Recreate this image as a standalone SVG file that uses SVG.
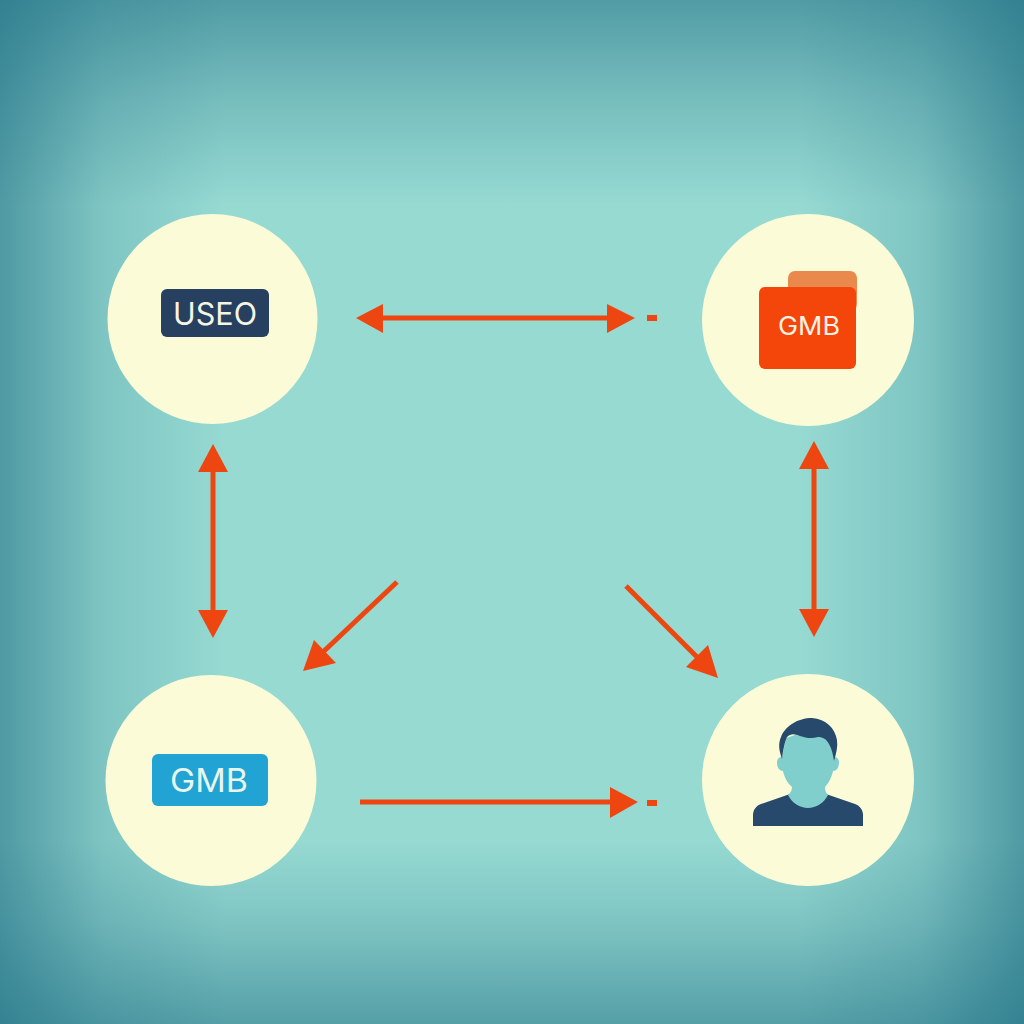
<svg xmlns="http://www.w3.org/2000/svg" width="1024" height="1024" viewBox="0 0 1024 1024">
<defs>
<linearGradient id="gx" x1="0" y1="0" x2="1" y2="0">
<stop offset="0" stop-color="#1f6f84" stop-opacity="0.6"/><stop offset="0.1" stop-color="#1f6f84" stop-opacity="0.2"/><stop offset="0.22" stop-color="#1f6f84" stop-opacity="0"/><stop offset="0.78" stop-color="#1f6f84" stop-opacity="0"/><stop offset="0.9" stop-color="#1f6f84" stop-opacity="0.2"/><stop offset="1" stop-color="#1f6f84" stop-opacity="0.6"/>
</linearGradient>
<linearGradient id="gy" x1="0" y1="0" x2="0" y2="1">
<stop offset="0" stop-color="#1f6f84" stop-opacity="0.58"/><stop offset="0.1" stop-color="#1f6f84" stop-opacity="0.26"/><stop offset="0.2" stop-color="#1f6f84" stop-opacity="0"/><stop offset="0.82" stop-color="#1f6f84" stop-opacity="0"/><stop offset="0.9" stop-color="#1f6f84" stop-opacity="0.2"/><stop offset="1" stop-color="#1f6f84" stop-opacity="0.55"/>
</linearGradient>
<style>
.c{fill:#fbfbd8}
.l{stroke:#ee4611;stroke-width:5;fill:none}
.h{fill:#ee4611}
.t{font-family:Inter,"Liberation Sans",sans-serif;font-weight:400;text-anchor:middle}
.d{fill:#27496b}
</style>
</defs>
<rect width="1024" height="1024" fill="#96dad2"/>
<rect width="1024" height="1024" fill="url(#gx)"/>
<rect width="1024" height="1024" fill="url(#gy)"/>
<g id="connectors">
<path class="l" d="M380 318H610"/><path class="h" d="M356 318L383 304V333Z"/><path class="h" d="M635 318L607 304V333Z"/>
<rect class="h" x="647" y="315" width="10" height="6"/>
<path class="l" d="M213 468V614"/><path class="h" d="M213 444L198 472H228Z"/><path class="h" d="M213 638L198 610H228Z"/>
<path class="l" d="M814 466V612"/><path class="h" d="M814 441L799 469H829Z"/><path class="h" d="M814 637L799 609H829Z"/>
<path class="l" d="M397 582L322 653"/><path class="h" d="M303 671L314 640L336 663Z"/>
<path class="l" d="M626 586L700 660"/><path class="h" d="M718 678L686 667L708 645Z"/>
<path class="l" d="M360 802H612"/><path class="h" d="M638 802L610 787V818Z"/>
<rect class="h" x="647" y="800" width="10" height="6"/>
</g>
<g id="node-useo">
<circle class="c" cx="212.500" cy="319" r="105"/>
<rect x="161" y="289" width="108" height="48" rx="6" fill="#27405f"/>
<text class="t" x="215" y="325" font-size="31" fill="#f5f5e6" textLength="84" lengthAdjust="spacingAndGlyphs">USEO</text>
</g>
<g id="node-gmb-folder">
<circle class="c" cx="808" cy="320" r="106"/>
<rect x="788" y="271" width="69" height="40" rx="7" fill="#e98a4c"/>
<rect x="759" y="287" width="97" height="82" rx="6" fill="#f4450b"/>
<text class="t" x="809" y="335" font-size="25" font-weight="500" fill="#fbf3e4" textLength="62" lengthAdjust="spacingAndGlyphs">GMB</text>
</g>
<g id="node-gmb-blue">
<circle class="c" cx="211" cy="780.500" r="105.500"/>
<rect x="152" y="754" width="116" height="52" rx="6" fill="#21a3d3"/>
<text class="t" x="209" y="792" font-size="32" fill="#e9f6ee" textLength="78" lengthAdjust="spacingAndGlyphs">GMB</text>
</g>
<g id="node-user">
<circle class="c" cx="808" cy="780" r="106"/>
<path class="d" d="M753 826V815C753 810 756 806 761 804L790 794H826L855 804C860 806 863 810 863 815V826Z"/>
<path d="M786 738L782 757C778 757 777 760 777 763C777 768 780 771 783 771C784 776 787 783 792 787C792 791 790 793 788 795C792 803 800 808 808 808C816 808 824 803 828 795C826 793 825 791 825 787C829 783 832 776 833 771C837 771 839 767 839 762C839 759 837 757 834 757L830 742L810 730Z" fill="#80cfcd"/>
<path class="d" d="M782 759C779 750 778 744 781 737C785 726 798 718 812 718C826 719 835 728 837 740C838 747 836 754 834 761C833 755 832 749 829 744C826 739 823 737 818 737C812 739 806 738 800 736C795 734 791 733 787 737C785 741 783 750 782 759Z"/>
</g>
</svg>
